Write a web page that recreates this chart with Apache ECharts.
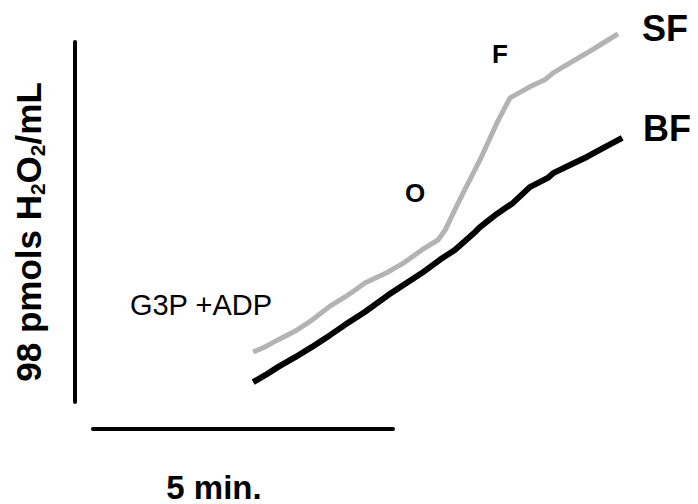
<!DOCTYPE html>
<html>
<head>
<meta charset="utf-8">
<script src="https://cdn.jsdelivr.net/npm/echarts@6/dist/echarts.min.js"></script>
<style>html,body{margin:0;padding:0;background:#fff}#c{width:698px;height:504px}</style>
</head>
<body>
<div id="c"></div>
<script>
// time in minutes, H2O2 in pmol/mL (relative)
const sfTime = [2.97,3.17,3.38,3.67,3.95,4.25,4.50,4.67,4.83,5.22,5.50,5.78,6.05,6.17,6.33,6.47,6.75,7.03,7.25,7.58,7.83,7.97,8.25,8.53,8.83,9.05];
const sfValue = [13.6,15.0,16.9,19.3,22.3,26.1,28.6,30.5,32.4,35.4,38.1,41.4,44.1,46.8,52.3,56.9,65.9,75.9,82.8,85.8,87.7,89.6,92.3,95.0,98.0,100.2];
const bfTime = [2.97,3.17,3.38,3.67,3.95,4.25,4.50,4.83,5.22,5.50,5.78,6.08,6.33,6.67,6.75,7.03,7.30,7.58,7.88,7.97,8.25,8.53,8.83,9.12];
const bfValue = [5.4,7.3,9.5,12.2,15.0,18.2,21.0,24.5,29.1,32.1,35.1,38.7,41.4,46.3,47.6,51.2,54.2,58.5,61.0,62.3,64.5,66.7,69.4,71.9];
const seriesNames = ['SF','BF'];
const yScaleBar = [0, 98];   // 98 pmols H2O2/mL
const xScaleBar = [0, 5];    // 5 min.
const annotations = ['G3P +ADP','O','F'];

const FONT = '"Liberation Sans", Arial, sans-serif';
const zip = (a,b)=>a.map((v,i)=>[v,b[i]]);

const chart = echarts.init(document.getElementById('c'), null, {renderer:'svg'});
chart.setOption({
  animation:false,
  backgroundColor:'#fff',
  grid:[
    {left:75, top:42, width:600, height:360},
    {left:93, top:380, width:300, height:49}
  ],
  xAxis:[
    {type:'value', gridIndex:0, min:0, max:10, show:false},
    {type:'value', gridIndex:1, min:xScaleBar[0], max:xScaleBar[1], position:'bottom',
     axisLine:{show:true, onZero:false, lineStyle:{color:'#000', width:4}},
     axisTick:{show:false}, axisLabel:{show:false}, splitLine:{show:false}}
  ],
  yAxis:[
    {type:'value', gridIndex:0, min:yScaleBar[0], max:yScaleBar[1], position:'left',
     axisLine:{show:true, onZero:false, lineStyle:{color:'#000', width:4}},
     axisTick:{show:false}, axisLabel:{show:false}, splitLine:{show:false}},
    {type:'value', gridIndex:1, show:false}
  ],
  series:[
    {name:seriesNames[0], type:'line', xAxisIndex:0, yAxisIndex:0, data:zip(sfTime,sfValue),
     symbol:'none', clip:false, lineStyle:{color:'#b3b3b3', width:5}},
    {name:seriesNames[1], type:'line', xAxisIndex:0, yAxisIndex:0, data:zip(bfTime,bfValue),
     symbol:'none', clip:false, lineStyle:{color:'#000', width:6}}
  ],
  graphic:[
    {type:'text', x:28, y:232, rotation:Math.PI/2,
     style:{text:'98 pmols H{sub|2}O{sub|2}/mL', font:'bold 35px '+FONT, fill:'#000',
       align:'center', verticalAlign:'middle',
       rich:{sub:{fontSize:21, fontWeight:'bold', fontFamily:FONT, padding:[18,0,0,0]}}}},
    {type:'text', x:214, y:487, style:{text:'5 min.', font:'bold 33px '+FONT, fill:'#000', align:'center', verticalAlign:'middle'}},
    {type:'text', x:201, y:305, style:{text:annotations[0], font:'29px '+FONT, fill:'#000', align:'center', verticalAlign:'middle'}},
    {type:'text', x:415, y:193, style:{text:annotations[1], font:'bold 26px '+FONT, fill:'#000', align:'center', verticalAlign:'middle'}},
    {type:'text', x:500, y:54, style:{text:annotations[2], font:'bold 26px '+FONT, fill:'#000', align:'center', verticalAlign:'middle'}},
    {type:'text', x:642, y:28, style:{text:seriesNames[0], font:'bold 36px '+FONT, fill:'#000', align:'left', verticalAlign:'middle'}},
    {type:'text', x:643, y:128, style:{text:seriesNames[1], font:'bold 36px '+FONT, fill:'#000', align:'left', verticalAlign:'middle'}}
  ]
});
</script>
</body>
</html>
